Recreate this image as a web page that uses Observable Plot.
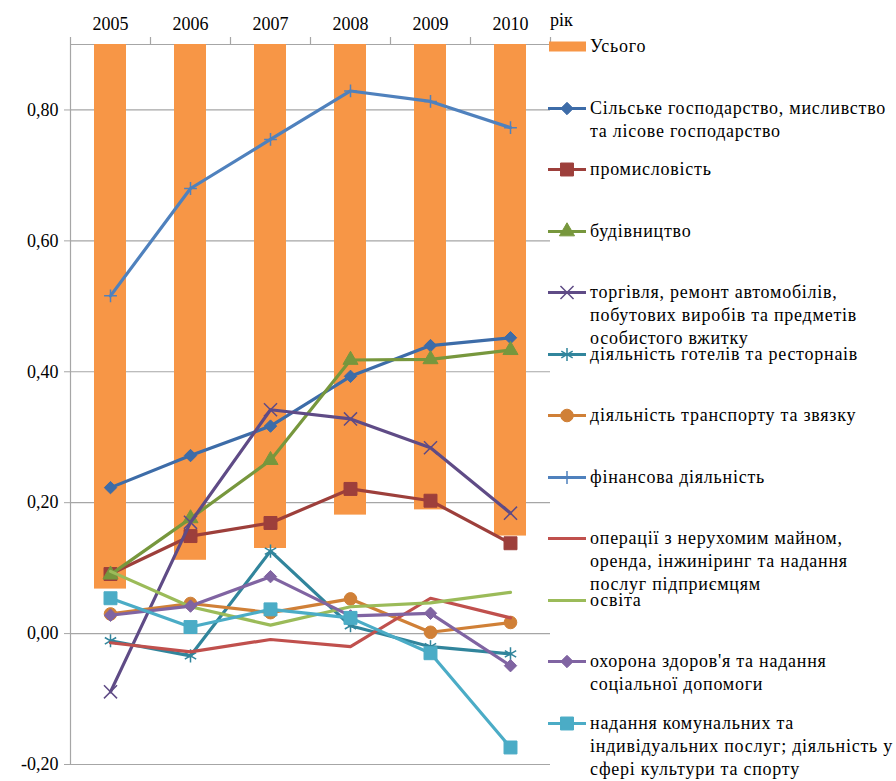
<!DOCTYPE html>
<html><head><meta charset="utf-8">
<script src="https://cdn.jsdelivr.net/npm/d3@7"></script>
<script src="https://cdn.jsdelivr.net/npm/@observablehq/plot@0.6"></script>
<style>
body{margin:0;background:#fff;}
#wrap{position:relative;width:896px;height:781px;font-family:"Liberation Serif","Tinos","Liberation Sans",sans-serif;overflow:hidden;}
#wrap svg.chart{position:absolute;left:0;top:0;}
.item{position:absolute;left:548px;display:flex;align-items:flex-start;}
.item svg{flex:none;display:block;}
.item span{font-size:18px;line-height:23px;color:#000;margin-left:4px;white-space:pre;letter-spacing:0.75px;}
.unit{position:absolute;left:550px;top:9px;font-size:18px;line-height:23px;color:#000;}
</style></head><body><div id="wrap"></div>
<script>
// ---- data ----
const years = ["2005", "2006", "2007", "2008", "2009", "2010"];
const yTicks = [-0.2, 0, 0.2, 0.4, 0.6, 0.8];
const axisCross = 0.9;           // value at which the category axis crosses
const unitLabel = "рік";

const total         = [0.068, 0.112, 0.130, 0.181, 0.189, 0.149];
const agriculture   = [0.223, 0.272, 0.317, 0.393, 0.440, 0.452];
const industry      = [0.091, 0.149, 0.169, 0.221, 0.203, 0.138];
const construction  = [0.090, 0.176, 0.265, 0.418, 0.419, 0.433];
const trade         = [-0.089, 0.170, 0.342, 0.328, 0.284, 0.184];
const hotels        = [-0.011, -0.034, 0.126, 0.012, -0.020, -0.031];
const transport     = [0.030, 0.046, 0.032, 0.053, 0.002, 0.017];
const finance       = [0.516, 0.680, 0.755, 0.829, 0.813, 0.773];
const realEstate    = [-0.014, -0.028, -0.009, -0.020, 0.054, 0.024];
const education     = [0.095, 0.041, 0.013, 0.041, 0.047, 0.063];
const health        = [0.028, 0.042, 0.087, 0.027, 0.031, -0.049];
const communal      = [0.054, 0.010, 0.037, 0.024, -0.030, -0.174];

const totalName = "Усього";
const seriesNames = [
  "Сільське господарство, мисливство\nта лісове господарство",
  "промисловість",
  "будівництво",
  "торгівля, ремонт автомобілів,\nпобутових виробів та предметів\nособистого вжитку",
  "діяльність готелів та ресторнаів",
  "діяльність транспорту та звязку",
  "фінансова діяльність",
  "операції з нерухомим майном,\nоренда, інжиніринг та надання\nпослуг підприємцям",
  "освіта",
  "охорона здоров'я та надання\nсоціальної допомоги",
  "надання комунальних та\nіндивідуальних послуг; діяльність у\nсфері культури та спорту"
];
const seriesValues = [agriculture, industry, construction, trade, hotels, transport, finance, realEstate, education, health, communal];
const seriesColors = ["#3d6ca8", "#9d3f3b", "#77973d", "#5f4b86", "#31859c", "#d08037", "#4f81bd", "#c0504d", "#9bbb59", "#8064a2", "#4bacc6"];
const seriesSymbols = ["diamond2", "square", "triangle", "times", "asterisk", "circle", "plus", null, null, "diamond2", "square"];
const totalColor = "#f79646";

// ---- layout ----
const W = 896, H = 781, mL = 70, mR = 346, mT = 44, mB = 17;
const bw = (W - mL - mR) / years.length;
const grey = "#a6a6a6";
const fontStack = "'Liberation Serif','Tinos','Liberation Sans',sans-serif";
const symR = {diamond2: 5.6, square: 7.3, triangle: 5.6, times: 6, asterisk: 6.2, circle: 6.3, plus: 4.2};
const strokedSym = new Set(["times", "asterisk", "plus"]);

const totalRows = years.map((y, i) => ({year: y, v: total[i]}));
const series = seriesNames.map((name, k) => ({
  name, color: seriesColors[k], symbol: seriesSymbols[k],
  rows: years.map((y, i) => ({year: y, v: seriesValues[k][i]}))
}));

const marks = [
  Plot.gridY(yTicks, {stroke: grey, strokeOpacity: 1, strokeWidth: 1.2}),
  Plot.ruleY([axisCross], {stroke: grey, strokeWidth: 1.2}),
  Plot.barY(totalRows, {x: "year", y1: axisCross, y2: "v", fill: totalColor, insetLeft: 24, insetRight: 24}),
  Plot.ruleX([years[0]], {dx: -bw / 2, stroke: grey, strokeWidth: 1.2}),
  Plot.ruleX(years, {x: d => d, y1: axisCross, y2: axisCross, insetTop: -7, dx: -bw / 2, stroke: grey, strokeWidth: 1.2}),
  Plot.ruleX([years[years.length - 1]], {y1: axisCross, y2: axisCross, insetTop: -7, dx: bw / 2, stroke: grey, strokeWidth: 1.2}),
  Plot.axisX({anchor: "top", tickSize: 0, tickPadding: 15, fill: "#000", label: null}),
  Plot.axisY({ticks: yTicks, tickSize: 6, tickPadding: 6, stroke: grey, fill: "#000", label: null,
    tickFormat: d => d.toFixed(2).replace(".", ",")})
];
for (const s of series) {
  marks.push(Plot.line(s.rows, {x: "year", y: "v", stroke: s.color, strokeWidth: 3.2, strokeLinejoin: "round"}));
  if (s.symbol) {
    const stroked = strokedSym.has(s.symbol);
    marks.push(Plot.dot(s.rows, {x: "year", y: "v", symbol: s.symbol, r: symR[s.symbol],
      fill: stroked ? "none" : s.color, stroke: s.color, strokeWidth: stroked ? 1.5 : 1}));
  }
}

const chart = Plot.plot({
  width: W, height: H,
  marginLeft: mL, marginRight: mR, marginTop: mT, marginBottom: mB,
  style: {fontFamily: fontStack, fontSize: "18px", color: "#000", background: "transparent"},
  x: {type: "band", domain: years, padding: 0},
  y: {domain: [-0.2, axisCross]},
  marks
});
chart.classList.add("chart");
const wrap = document.getElementById("wrap");
wrap.appendChild(chart);

// ---- legend (right side) ----
const unit = document.createElement("div");
unit.className = "unit"; unit.textContent = unitLabel; wrap.appendChild(unit);

const symMap = {diamond2: d3.symbolDiamond2, square: d3.symbolSquare, triangle: d3.symbolTriangle,
  times: d3.symbolTimes, asterisk: d3.symbolAsterisk, circle: d3.symbolCircle, plus: d3.symbolPlus};
const legendStart = 46.5, legendStep = 61.5;
const entries = [{name: totalName, color: totalColor, bar: true}, ...series];
entries.forEach((e, i) => {
  const item = document.createElement("div");
  item.className = "item";
  item.style.top = (legendStart + i * legendStep - 11.5) + "px";
  const sw = d3.create("svg").attr("width", 38).attr("height", 23);
  if (e.bar) {
    sw.append("rect").attr("x", 1).attr("y", 6.5).attr("width", 37).attr("height", 10).attr("fill", e.color);
  } else {
    sw.append("line").attr("x1", 0).attr("x2", 38).attr("y1", 11.5).attr("y2", 11.5)
      .attr("stroke", e.color).attr("stroke-width", 3.2);
    if (e.symbol) {
      const stroked = strokedSym.has(e.symbol);
      const r = symR[e.symbol];
      sw.append("path").attr("transform", "translate(19,11.5)")
        .attr("d", d3.symbol(symMap[e.symbol], Math.PI * r * r)())
        .attr("fill", stroked ? "none" : e.color).attr("stroke", e.color)
        .attr("stroke-width", stroked ? 1.5 : 1);
    }
  }
  item.appendChild(sw.node());
  const t = document.createElement("span");
  t.textContent = e.name;
  item.appendChild(t);
  wrap.appendChild(item);
});
</script>
</body></html>
